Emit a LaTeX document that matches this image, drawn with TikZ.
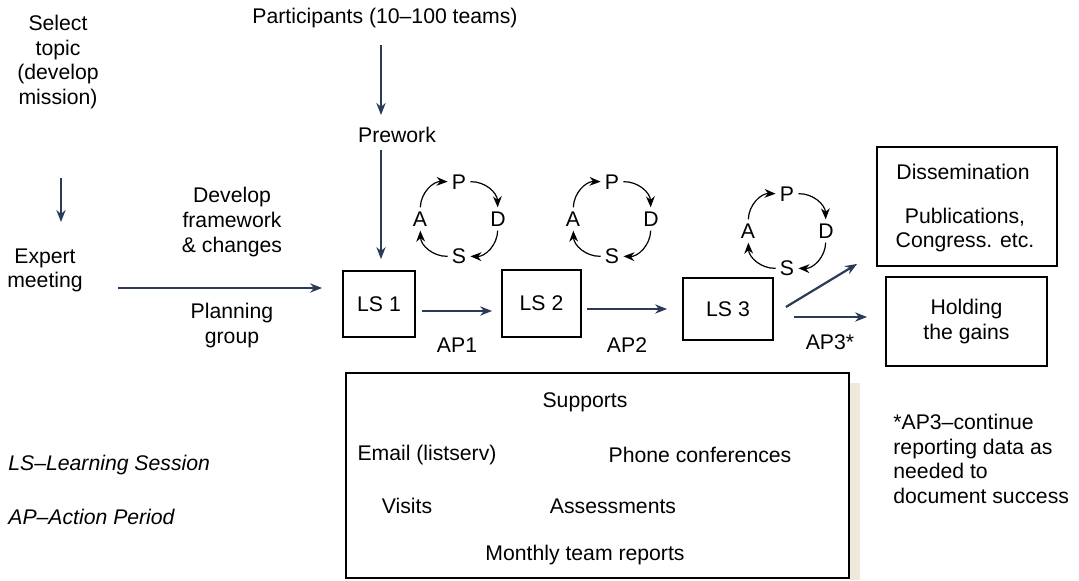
\documentclass[tikz,border=0pt]{standalone}
\usepackage{fontspec}
\setmainfont{Liberation Sans}
\usetikzlibrary{arrows.meta}
\definecolor{navy}{HTML}{2B3A57}
\definecolor{paper}{HTML}{EEE8DD}
\tikzset{
  lbl/.style={inner sep=0pt,align=center,font=\fontsize{10.6}{12.3}\selectfont},
  letter/.style={lbl,inner sep=2pt},
  sbox/.style={draw,line width=0.9pt,inner sep=0pt},
  flow/.style={navy,line width=1.1pt,-{Stealth[length=6pt,width=4.6pt]}},
  turn/.style={black,line width=0.6pt,-{Stealth[length=5.5pt,width=4.4pt]}},
}
% one plan-do-study-act wheel around (#2,#3)
\NewDocumentCommand\DrawCycle{mmm}%
{%
\node[letter] (#1P) at ({#2},{#3+37}) {P};%
\node[letter] (#1D) at ({#2+39},{#3}) {D};%
\node[letter] (#1S) at ({#2},{#3-37}) {S};%
\node[letter] (#1A) at ({#2-39},{#3}) {A};%
\draw[turn] (#1A) to[bend left=45] (#1P);%
\draw[turn] (#1P) to[bend left=45] (#1D);%
\draw[turn] (#1D) to[bend left=45] (#1S);%
\draw[turn] (#1S) to[bend left=45] (#1A);%
}

\begin{document}
\begin{tikzpicture}[x=0.5pt,y=0.5pt]
\useasboundingbox (0,0) rectangle (1079,580);
% planning column
\node[lbl] (select) at (58,518) {Select\\topic\\(develop\\mission)};
\node[lbl] (expert) at (45,309.5) {Expert\\meeting};
\coordinate (sel1) at (61,402);
\coordinate (sel2) at (61,358);
\draw[flow] (sel1) -- (sel2);
\node[lbl] (develop) at (232,358) {Develop\\framework\\\& changes};
\node[lbl] (planning) at (232,254.5) {Planning\\group};
% learning sessions
\node[sbox,minimum width=36pt,minimum height=33pt] (ls1) at (379,276) {};
\node[lbl] at (ls1) {LS 1};
\node[sbox,minimum width=39.5pt,minimum height=33.5pt] (ls2) at (541.5,276.5) {};
\node[lbl] at (ls2) {LS 2};
\node[sbox,minimum width=45pt,minimum height=31pt] (ls3) at (728,271) {};
\node[lbl] at (ls3) {LS 3};
\coordinate (plan) at (118,292);
\draw[flow,shorten >=10pt] (plan) -- (ls1.west |- plan);
% participants
\node[lbl] (part) at (385,562) {Participants (10--100 teams)};
\node[lbl] (prework) at (397,445) {Prework};
\coordinate (pre1) at (381,535);
\coordinate (pre2) at (381,465);
\coordinate (pre3) at (381,430);
\draw[flow] (pre1) -- (pre2);
\draw[flow,shorten >=5.5pt] (pre3) -- (pre3 |- ls1.north);
% wheels
\DrawCycle{c1}{459}{361}
\DrawCycle{c2}{612}{361}
\DrawCycle{c3}{787}{349}
% action periods
\draw[flow,shorten <=3pt,shorten >=4.5pt] ([yshift=-3.5pt]ls1.east) -- ([yshift=-3.5pt]ls1.east -| ls2.west);
\draw[flow,shorten <=2.5pt,shorten >=7.5pt] ([yshift=-2.75pt]ls2.east) -- ([yshift=-2.75pt]ls2.east -| ls3.west);
\node[lbl] (ap1) at (457,235) {AP1};
\node[lbl] (ap2) at (627,235) {AP2};
\node[lbl] (ap3) at (830,238) {AP3*};
% outcomes
\node[sbox,minimum width=90pt,minimum height=59.5pt] (dissem) at (967,373.5) {};
\node[lbl] (dis) at (963,408) {Dissemination};
\node[lbl] (pub) at (965,350) {Publications,\\Congress. etc.};
\node[sbox,minimum width=80.5pt,minimum height=44.5pt] (hold) at (966.5,258.5) {};
\node[lbl] at (hold) {Holding\\the gains};
\draw[flow,shorten <=10pt,shorten >=9pt] ([yshift=-4pt]ls3.east) -- ([yshift=-4pt]ls3.east -| hold.west);
\draw[flow] ([xshift=6pt,yshift=1pt]ls3.east) -- ([xshift=-9.5pt,yshift=1.5pt]dissem.south west);
% supports
\fill[paper] (849,0) rectangle (860,197);
\node[sbox,fill=white,minimum width=251.5pt,minimum height=102.5pt] (supp) at (597.5,104.5) {};
\node[lbl] (supports) at (585,178) {Supports};
\node[lbl] (email) at (427,125) {Email (listserv)};
\node[lbl] (phone) at (700,125) {Phone conferences};
\node[lbl] (visits) at (407,74) {Visits};
\node[lbl] (assess) at (613,74) {Assessments};
\node[lbl] (monthly) at (585,25) {Monthly team reports};
% notes
\node[lbl,anchor=west,font=\fontsize{10.6}{12.3}\selectfont\itshape] (lsnote) at (8,115) {LS--Learning Session};
\node[lbl,anchor=west,font=\fontsize{10.6}{12.3}\selectfont\itshape] (apnote) at (8,63) {AP--Action Period};
\node[lbl,anchor=west,align=left] (ap3note) at (893,121) {*AP3--continue\\reporting data as\\needed to\\document success};
\end{tikzpicture}
\end{document}
